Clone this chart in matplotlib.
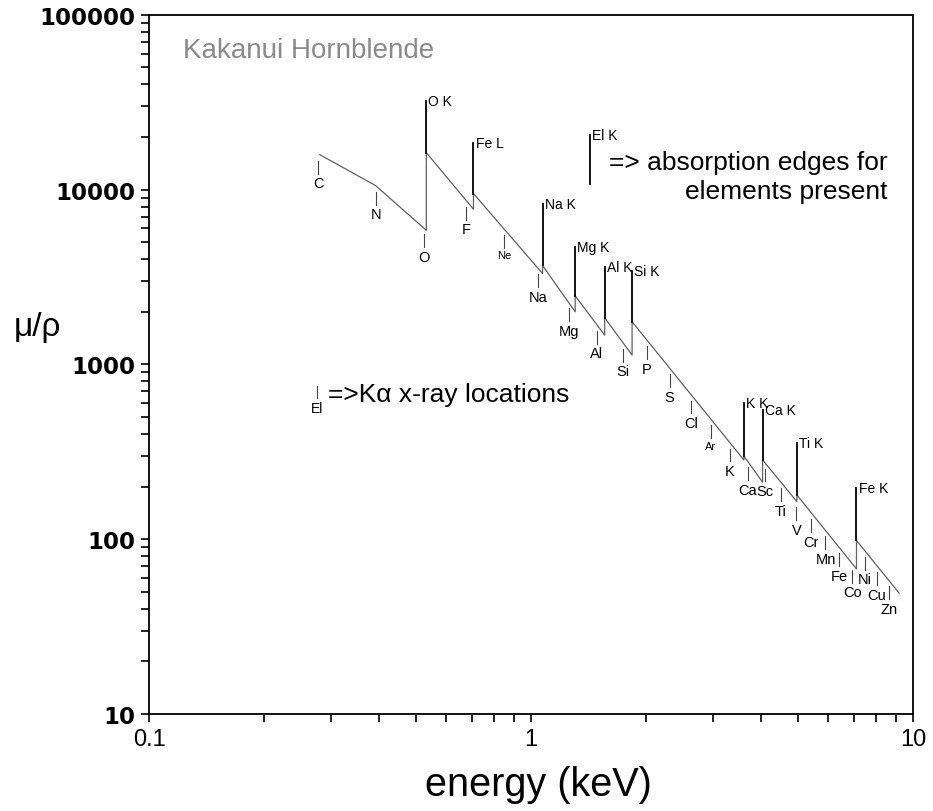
import matplotlib
matplotlib.use("Agg")
import matplotlib.pyplot as plt
import numpy as np

plt.rcParams["font.family"] = ["Liberation Sans", "DejaVu Sans"]

# mass absorption curve vertices (energy keV, mu/rho); edges appear as repeated energies
curve_energy = [0.28, 0.392, 0.532, 0.532, 0.707, 0.707, 1.072, 1.072, 1.305, 1.305,
                1.559, 1.559, 1.839, 1.839, 3.607, 3.607, 4.038, 4.038, 4.966, 4.966,
                7.112, 7.112, 9.2]
curve_mu = [15850, 10540, 5850, 16270, 7720, 9490, 3310, 3680, 2000, 2470,
            1470, 1849, 1130, 1754, 284, 299, 212, 284, 164, 179,
            67.6, 98.3, 49.1]

# absorption edges of elements present
edge_names = ["O K", "Fe L", "Na K", "Mg K", "Al K", "Si K", "K K", "Ca K", "Ti K", "Fe K"]
edge_energy = [0.532, 0.707, 1.072, 1.305, 1.559, 1.839, 3.607, 4.038, 4.966, 7.112]
edge_base = [16270, 9490, 3680, 2470, 1849, 1754, 299, 284, 179, 98.3]
edge_top = [32000, 18500, 8320, 4710, 3615, 3430, 598, 548, 354, 195]

# K-alpha x-ray energies
ka_names = ["C", "N", "O", "F", "Ne", "Na", "Mg", "Al", "Si", "P", "S", "Cl", "Ar",
            "K", "Ca", "Sc", "Ti", "V", "Cr", "Mn", "Fe", "Co", "Ni", "Cu", "Zn"]
ka_energy = [0.277, 0.392, 0.525, 0.677, 0.849, 1.041, 1.254, 1.487, 1.740, 2.013,
             2.307, 2.622, 2.957, 3.313, 3.691, 4.090, 4.510, 4.952, 5.414, 5.898,
             6.403, 6.930, 7.478, 8.047, 8.638]
small_names = ["Ne", "Ar"]

fig = plt.figure(figsize=(9.33, 8.12), dpi=100)
ax = fig.add_axes([0.1597, 0.1195, 0.8189, 0.8610])
ax.set_xscale("log")
ax.set_yscale("log")
ax.set_xlim(0.1, 10)
ax.set_ylim(10, 100000)

ax.plot(curve_energy, curve_mu, color="#606060", lw=0.9)

# edge markers
for name, e, base, top in zip(edge_names, edge_energy, edge_base, edge_top):
    ax.plot([e, e], [base, top], color="black", lw=1.3)
    ax.annotate(name, (e, top), xytext=(1.5, 0), textcoords="offset points",
                ha="left", va="center", fontsize=10)

# K-alpha markers below the curve
log_e = np.log10(curve_energy)
log_mu = np.log10(curve_mu)
for name, e in zip(ka_names, ka_energy):
    level = 10 ** np.interp(np.log10(e), log_e, log_mu)
    top = level * 0.924
    bottom = top * 0.843
    ax.plot([e, e], [top, bottom], color="#444444", lw=0.8)
    fs = 8 if name in small_names else 10.5
    ax.annotate(name, (e, bottom), xytext=(0, -2), textcoords="offset points",
                ha="center", va="top", fontsize=fs)

# legend-like annotations
ax.plot([1.427, 1.427], [10810, 20400], color="black", lw=1.3)
ax.annotate("El K", (1.427, 20400), xytext=(1.5, 0), textcoords="offset points",
            ha="left", va="center", fontsize=10)
ax.text(0.967, 0.769, "=> absorption edges for\nelements present", transform=ax.transAxes,
        ha="right", va="center", multialignment="right", fontsize=19, linespacing=1.25)

ax.plot([0.276, 0.276], [748, 640], color="#444444", lw=0.8)
ax.annotate("El", (0.276, 640), xytext=(0, -2), textcoords="offset points",
            ha="center", va="top", fontsize=10)
ax.text(0.234, 0.458, "=>K\u03b1 x-ray locations", transform=ax.transAxes,
        ha="left", va="center", fontsize=19)

ax.text(0.0445, 0.949, "Kakanui Hornblende", transform=ax.transAxes,
        ha="left", va="center", fontsize=20, color="#8a8a8a")

# axes styling
for s in ax.spines.values():
    s.set_linewidth(1.3)
ax.set_yticks([10, 100, 1000, 10000, 100000])
ax.set_yticklabels(["10", "100", "1000", "10000", "100000"], fontsize=16.5,
                   fontweight="bold", family="DejaVu Sans")
ax.set_xticks([0.1, 1, 10])
ax.set_xticklabels(["0.1", "1", "10"], fontsize=17)
ax.tick_params(which="both", direction="out", length=6, width=1.2, top=False, right=False)
ax.tick_params(axis="y", pad=4)
ax.tick_params(axis="x", pad=4)

fig.text(0.040, 0.597, "\u03bc/\u03c1", fontsize=24, ha="center", va="center")
fig.text(0.577, 0.033, "energy (keV)", fontsize=28.5, ha="center", va="center")

plt.savefig("out.png", dpi=100)
plt.close()
